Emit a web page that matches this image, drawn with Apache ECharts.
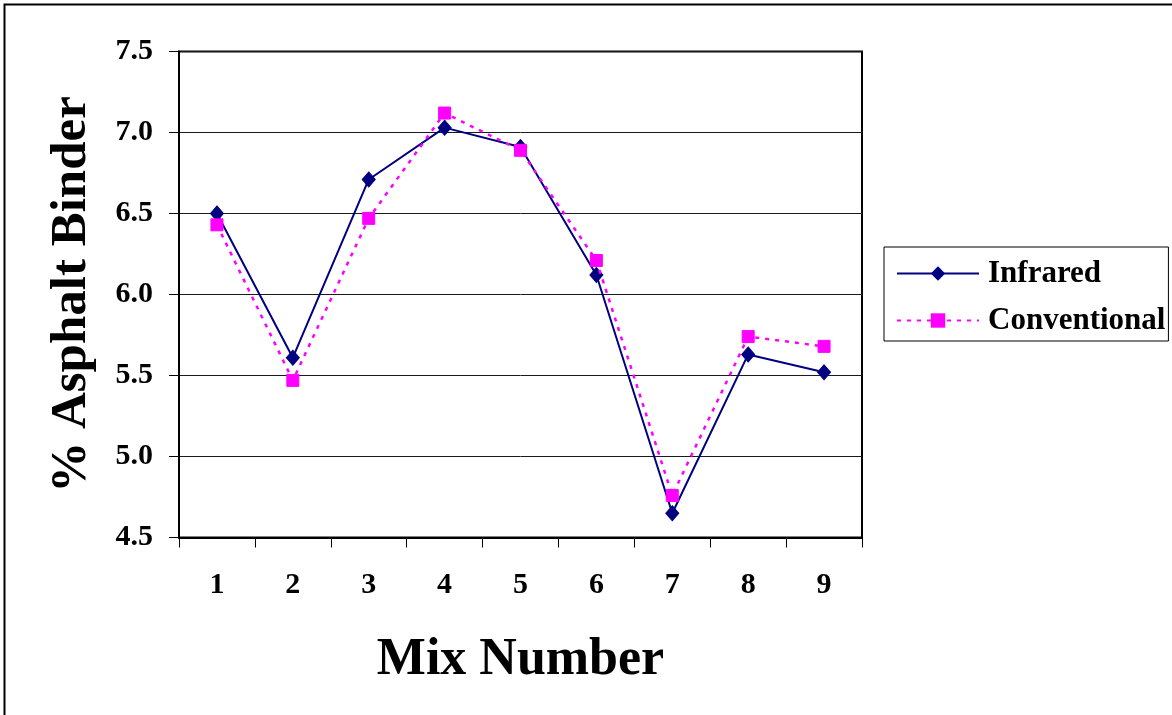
<!DOCTYPE html>
<html>
<head>
<meta charset="utf-8">
<script src="https://cdn.jsdelivr.net/npm/echarts@6/dist/echarts.min.js"></script>
<style>
html,body{margin:0;padding:0;background:#fff;}
#chart{width:1172px;height:715px;}
</style>
</head>
<body>
<div id="chart"></div>
<script>
var categories = ['1','2','3','4','5','6','7','8','9'];
var infrared = [6.50, 5.61, 6.71, 7.03, 6.91, 6.12, 4.65, 5.63, 5.52];
var conventional = [6.43, 5.47, 6.47, 7.12, 6.89, 6.21, 4.76, 5.74, 5.68];
var yTicks = {min: 4.5, max: 7.5, interval: 0.5};
var seriesNames = ['Infrared', 'Conventional'];
var xTitle = 'Mix Number';
var yTitle = '% Asphalt Binder';

var FONT = '"Liberation Serif", "Times New Roman", serif';
var chart = echarts.init(document.getElementById('chart'), null, {renderer: 'canvas'});
chart.setOption({
  backgroundColor: '#ffffff',
  animation: false,
  graphic: [{
    type: 'rect',
    shape: {x: 4.5, y: 4.5, width: 1400, height: 1000},
    style: {fill: 'none', stroke: '#000', lineWidth: 2},
    silent: true,
    z: 100
  }],
  grid: {
    left: 179, top: 51.5, right: 310, bottom: 177.5,
    show: true, borderColor: '#000', borderWidth: 2, backgroundColor: '#fff'
  },
  legend: {
    orient: 'vertical',
    left: 884, top: 247,
    padding: [11, 3, 5, 12],
    itemGap: 16,
    itemWidth: 82,
    itemHeight: 18,
    borderColor: '#000',
    borderWidth: 1,
    backgroundColor: '#fff',
    textStyle: {fontFamily: FONT, fontWeight: 'bold', fontSize: 31, color: '#000', padding: [0, 0, 0, 4]},
    data: seriesNames
  },
  xAxis: {
    type: 'category',
    data: categories,
    boundaryGap: true,
    name: xTitle,
    nameLocation: 'middle',
    nameGap: 97,
    nameTextStyle: {fontFamily: FONT, fontWeight: 'bold', fontSize: 52, color: '#000'},
    axisLine: {show: true, lineStyle: {color: '#000', width: 2}},
    axisTick: {show: true, inside: false, length: 10, alignWithLabel: false, lineStyle: {color: '#000', width: 1}},
    axisLabel: {fontFamily: FONT, fontWeight: 'bold', fontSize: 30, color: '#000', margin: 33},
    splitLine: {show: false}
  },
  yAxis: {
    type: 'value',
    min: yTicks.min, max: yTicks.max, interval: yTicks.interval,
    name: yTitle,
    nameLocation: 'middle',
    nameGap: 82,
    nameRotate: 90,
    nameTextStyle: {fontFamily: FONT, fontWeight: 'bold', fontSize: 51, color: '#000'},
    axisLine: {show: true, lineStyle: {color: '#000', width: 2}},
    axisTick: {show: true, inside: false, length: 10, lineStyle: {color: '#000', width: 1}},
    axisLabel: {fontFamily: FONT, fontWeight: 'bold', fontSize: 30, color: '#000', margin: 26,
      formatter: function (v) { return v.toFixed(1); }},
    splitLine: {show: true, lineStyle: {color: '#1a1a1a', width: 1}}
  },
  series: [{
    name: seriesNames[0],
    type: 'line',
    data: infrared,
    symbol: 'diamond',
    symbolSize: [13, 15],
    showAllSymbol: true,
    lineStyle: {color: '#000080', width: 2, type: 'solid'},
    itemStyle: {color: '#000080', borderColor: '#000080'},
    z: 3
  }, {
    name: seriesNames[1],
    type: 'line',
    data: conventional,
    symbol: 'rect',
    symbolSize: 12,
    showAllSymbol: true,
    lineStyle: {color: '#ff00ff', width: 2.5, type: [4, 6]},
    itemStyle: {color: '#ff00ff', borderColor: '#ff00ff'},
    z: 4
  }]
});
</script>
</body>
</html>
